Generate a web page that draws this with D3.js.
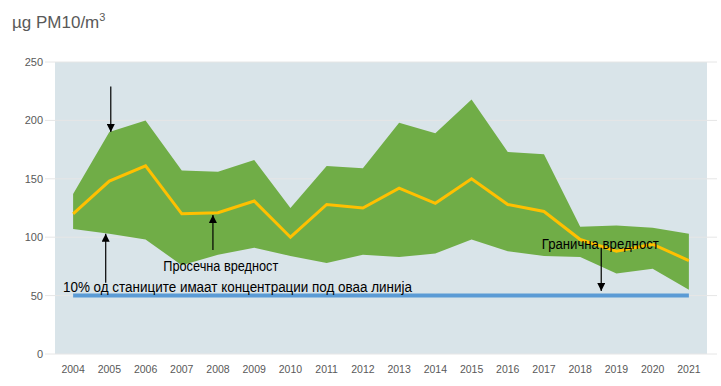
<!DOCTYPE html>
<html>
<head>
<meta charset="utf-8">
<script src="https://cdn.jsdelivr.net/npm/d3@7"></script>
<style>
  body { margin: 0; background: #fff; }
  text { font-family: "Liberation Sans", Arial, sans-serif; }
</style>
</head>
<body>
<div id="chart"></div>
<script>
// data
const years = ["2004","2005","2006","2007","2008","2009","2010","2011","2012",
               "2013","2014","2015","2016","2017","2018","2019","2020","2021"];
const maxVals  = [137, 190, 200, 157, 156, 166, 125, 161, 159, 198, 189, 218, 173, 171, 109, 110, 108, 103];
const meanVals = [120, 148, 161, 120, 121, 131, 100, 128, 125, 142, 129, 150, 128, 122,  98,  88,  94,  80];
const minVals  = [107, 103,  98,  76,  85,  91,  84,  78,  85,  83,  86,  98,  88,  84,  83,  69,  73,  55];
const limitValue = 50;
const yTicks = [0, 50, 100, 150, 200, 250];

// annotations: arrows (year position + offset in bands, from/to values) and texts
const arrows = [
  {year: "2005", dx: 0.04, from: 229, to: 190},
  {year: "2005", dx: -0.1, from: 61, to: 103},
  {year: "2008", dx: -0.14, from: 89, to: 119},
  {year: "2018", dx: 0.58, from: 91, to: 54}
];
const labels = [
  {text: "Просечна вредност", year: "2007", dx: -0.51, value: 71, len: 115},
  {text: "10% од станиците имаат концентрации под оваа линија", year: "2004", dx: -0.28, value: 53, len: 349},
  {text: "Гранична вредност", year: "2017", dx: -0.06, value: 90, len: 117}
];

var W = 721, H = 386;
var margin = {top: 62, right: 14, bottom: 32, left: 55};
var width = W - margin.left - margin.right,
    height = H - margin.top - margin.bottom;

var svg = d3.select("#chart").append("svg")
    .attr("width", W)
    .attr("height", H);

svg.append("text")
    .attr("x", 12)
    .attr("y", 28)
    .attr("fill", "#595959")
    .style("font-size", "17px")
    .text("\u00b5g PM10/m")
  .append("tspan")
    .attr("dy", -7)
    .style("font-size", "11px")
    .text("3");

var g = svg.append("g")
    .attr("transform", "translate(" + margin.left + "," + margin.top + ")");

var x = d3.scaleBand().domain(years).range([0, width]);
var y = d3.scaleLinear().domain([0, 250]).range([height, 0]);
var cx = function(yr, dx) { return x(yr) + x.bandwidth() * (0.5 + (dx || 0)); };

// plot background
g.append("rect")
    .attr("width", width)
    .attr("height", height)
    .attr("fill", "#d9e4e9");

// gridlines
g.selectAll(".grid")
    .data(yTicks)
    .enter().append("line")
    .attr("x1", -10)
    .attr("x2", width + 10)
    .attr("y1", function(d) { return y(d); })
    .attr("y2", function(d) { return y(d); })
    .attr("stroke", "#e6e6e6")
    .attr("stroke-width", 1);

// y axis labels
g.selectAll(".ylab")
    .data(yTicks)
    .enter().append("text")
    .attr("x", -12)
    .attr("y", function(d) { return y(d) + 4; })
    .attr("text-anchor", "end")
    .attr("fill", "#595959")
    .style("font-size", "11px")
    .text(function(d) { return d; });

// x axis labels
g.selectAll(".xlab")
    .data(years)
    .enter().append("text")
    .attr("x", function(d) { return cx(d); })
    .attr("y", height + 19)
    .attr("text-anchor", "middle")
    .attr("fill", "#595959")
    .style("font-size", "10.5px")
    .text(function(d) { return d; });

var rows = years.map(function(yr, i) {
  return {year: yr, max: maxVals[i], mean: meanVals[i], min: minVals[i]};
});

// min-max band
var area = d3.area()
    .x(function(d) { return cx(d.year); })
    .y0(function(d) { return y(d.min); })
    .y1(function(d) { return y(d.max); });

g.append("path")
    .datum(rows)
    .attr("d", area)
    .attr("fill", "#70ad47");

// mean line
var meanLine = d3.line()
    .x(function(d) { return cx(d.year); })
    .y(function(d) { return y(d.mean); });

g.append("path")
    .datum(rows)
    .attr("d", meanLine)
    .attr("fill", "none")
    .attr("stroke", "#ffc000")
    .attr("stroke-width", 3);

// limit value line
g.append("line")
    .attr("x1", cx(years[0]))
    .attr("x2", cx(years[years.length - 1]))
    .attr("y1", y(limitValue))
    .attr("y2", y(limitValue))
    .attr("stroke", "#5b9bd5")
    .attr("stroke-width", 4);

// arrow head marker
svg.append("defs").append("marker")
    .attr("id", "head")
    .attr("viewBox", "0 0 10 10")
    .attr("refX", 10)
    .attr("refY", 5)
    .attr("markerUnits", "userSpaceOnUse")
    .attr("markerWidth", 9)
    .attr("markerHeight", 8)
    .attr("orient", "auto")
  .append("path")
    .attr("d", "M0,0L10,5L0,10Z")
    .attr("fill", "#000");

g.selectAll(".arrow")
    .data(arrows)
    .enter().append("line")
    .attr("x1", function(d) { return cx(d.year, d.dx); })
    .attr("x2", function(d) { return cx(d.year, d.dx); })
    .attr("y1", function(d) { return y(d.from); })
    .attr("y2", function(d) { return y(d.to); })
    .attr("stroke", "#000")
    .attr("stroke-width", 1.2)
    .attr("marker-end", "url(#head)");

g.selectAll(".note")
    .data(labels)
    .enter().append("text")
    .attr("x", function(d) { return cx(d.year, d.dx); })
    .attr("y", function(d) { return y(d.value); })
    .attr("fill", "#000")
    .attr("textLength", function(d) { return d.len; })
    .attr("lengthAdjust", "spacingAndGlyphs")
    .style("font-size", "14px")
    .text(function(d) { return d.text; });
</script>
</body>
</html>
